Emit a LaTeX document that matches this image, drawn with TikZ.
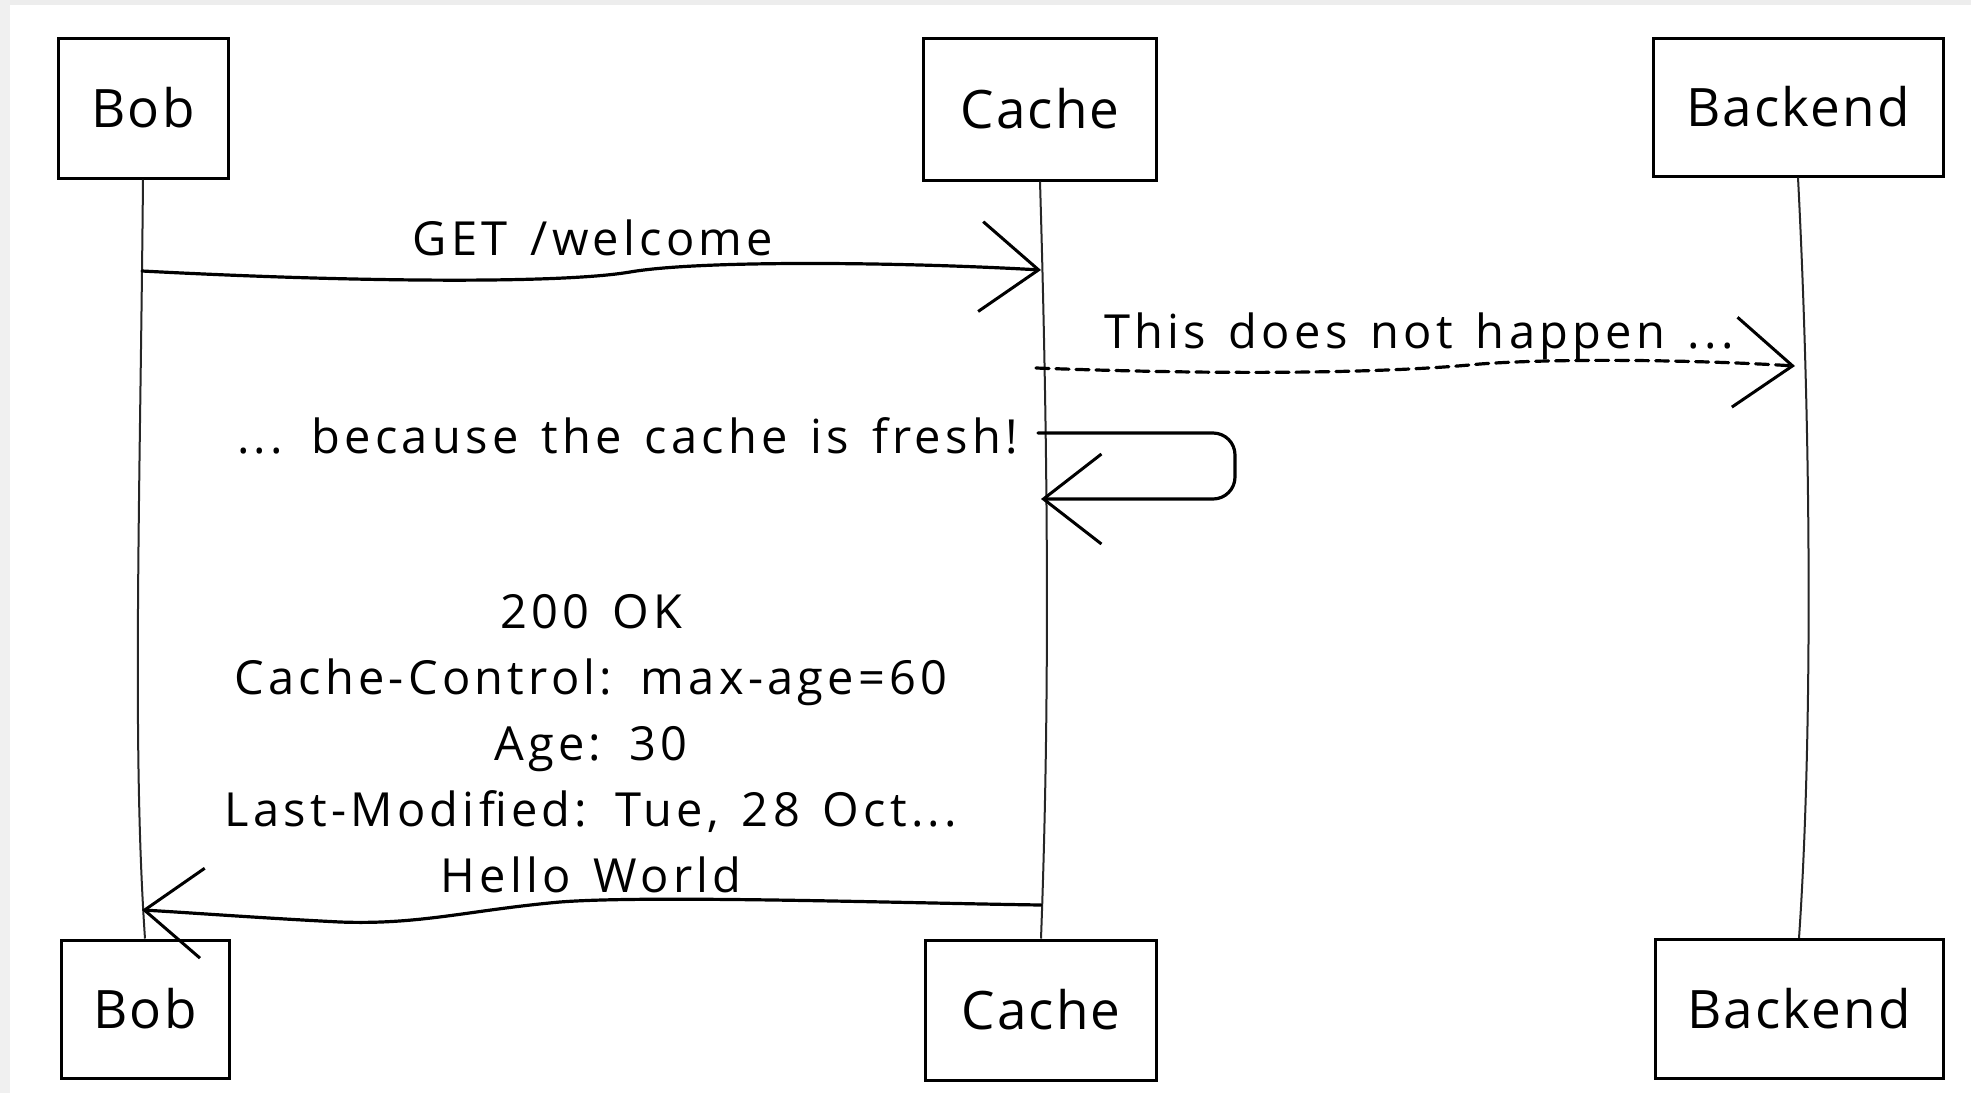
\documentclass[tikz,border=0pt]{standalone}
\usepackage{fontspec}
\setmainfont{Open Sans}
\newfontfamily\handlbl[LetterSpace=9,WordSpace=1.4]{Open Sans}
\newfontfamily\handbox[LetterSpace=4]{Open Sans}
\usetikzlibrary{arrows.meta}
\begin{document}
\begin{tikzpicture}[x=1pt,y=-1pt,
  actor/.style={draw=black, line width=3pt, fill=white, inner sep=0pt,
    font=\handbox\fontsize{53}{60}\selectfont},
  lifeline/.style={draw=black!85, line width=2pt},
  msg/.style={draw=black, line width=3.2pt, line cap=round,
    -{Straight Barb[length=58pt,width=90pt,line width=3pt]}},
  dashmsg/.style={msg, dash pattern=on 13pt off 7pt},
  lbl/.style={font=\handlbl\fontsize{47}{66}\selectfont, inner sep=0pt}
]
\useasboundingbox (0,0) rectangle (1971,1093);
\fill[white] (0,0) rectangle (1971,1093);
\fill[black!7] (0,0) rectangle (1971,5);
\fill[black!6] (0,0) rectangle (10,1093);

% actor boxes
\node[actor, minimum width=170pt, minimum height=140pt] (bobT) at (143,108) {Bob};
\node[actor, minimum width=233pt, minimum height=142pt] (cacheT) at (1040,109) {Cache};
\node[actor, minimum width=290pt, minimum height=138pt] (backT) at (1798,107) {Backend};
\node[actor, minimum width=168pt, minimum height=138pt] (bobB) at (145,1009) {Bob};
\node[actor, minimum width=231pt, minimum height=140pt] (cacheB) at (1041,1010) {Cache};
\node[actor, minimum width=288pt, minimum height=139pt] (backB) at (1799,1009) {Backend};

% lifelines
\draw[lifeline] (bobT.south) .. controls (140,500) and (132,750) .. (bobB.north);
\draw[lifeline] (cacheT.south) .. controls (1048,450) and (1050,700) .. (cacheB.north);
\draw[lifeline] (backT.south) .. controls (1812,450) and (1812,750) .. (backB.north);

% message anchor points
\coordinate (getS) at (142,271);
\coordinate (getE) at (1041,270);
\coordinate (dashS) at (1036,368);
\coordinate (dashE) at (1795,366);
\coordinate (selfS) at (1038,433);
\coordinate (selfA) at (1235,433);
\coordinate (selfB) at (1235,499);
\coordinate (selfE) at (1041,499);
\coordinate (respS) at (1041,905);
\coordinate (respE) at (142,910);

% GET /welcome
\draw[msg] (getS) .. controls (350,282) and (560,284) .. (630,272)
  .. controls (700,260) and (900,262) .. (getE);
\node[lbl] (getL) at (593,238) {GET /welcome};

% dashed (does not happen)
\draw[dashmsg] (dashS) .. controls (1250,376) and (1400,372) .. (1480,364)
  .. controls (1560,358) and (1700,360) .. (dashE);
\node[lbl] (dashL) at (1419,336) {This does not happen ...};

% self message
\draw[msg, rounded corners=22pt] (selfS) -- (selfA) -- (selfB) -- (selfE);
\node[lbl, anchor=east] (selfL) at (1018,436) {... because the cache is fresh!};

% response
\draw[msg] (respS) .. controls (900,903) and (650,895) .. (560,902)
  .. controls (470,910) and (420,925) .. (340,922)
  .. controls (260,918) and (180,912) .. (respE);
\node[lbl, align=center] (respL) at (591,744) {200 OK\\Cache-Control: max-age=60\\Age: 30\\Last-Modified: Tue, 28 Oct...\\Hello World};
\end{tikzpicture}
\end{document}
